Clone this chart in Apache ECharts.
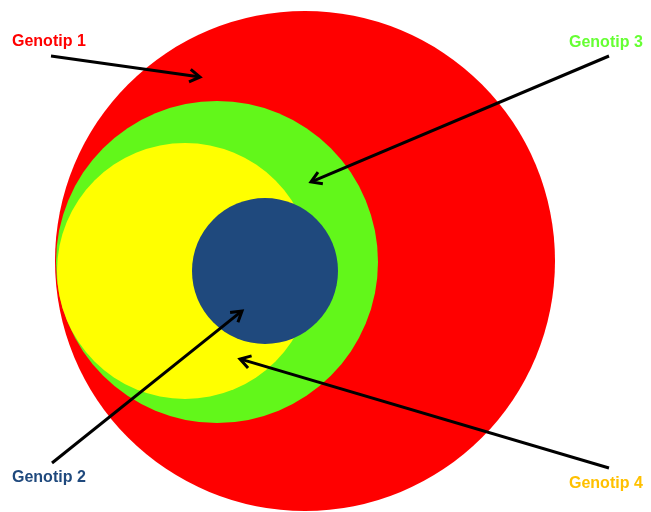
<!DOCTYPE html>
<html>
<head>
<meta charset="utf-8">
<script src="https://cdn.jsdelivr.net/npm/echarts@6/dist/echarts.min.js"></script>
<style>html,body{margin:0;padding:0;background:#fff}#c{width:651px;height:512px}</style>
</head>
<body>
<div id="c"></div>
<script>
// Circles (drawn back to front)
const circleNames = ['Genotip 1', 'Genotip 3', 'Genotip 4', 'Genotip 2'];
const circleCx = [305, 217, 185, 265];
const circleCy = [261, 262, 271, 271];
const circleR = [250, 161, 128, 73];
const circleColors = ['#FF0000', '#62F71A', '#FFFF00', '#1F497D'];

// Labels
const labelText = ['Genotip 1', 'Genotip 3', 'Genotip 2', 'Genotip 4'];
const labelX = [12, 569, 12, 569];
const labelY = [42, 43, 478, 484];
const labelColors = ['#FF0000', '#66FF33', '#1F497D', '#FFC000'];

// Arrows
const arrowFromX = [51, 609, 52, 609];
const arrowFromY = [56, 56, 463, 468];
const arrowToX = [200, 311, 242, 240];
const arrowToY = [77, 182, 311, 359];

const chart = echarts.init(document.getElementById('c'));

const circleData = circleNames.map((n, i) => ({ name: n, value: [circleCx[i], circleCy[i], circleR[i]], itemStyle: { color: circleColors[i] } }));
const labelData = labelText.map((t, i) => ({ name: t, value: [labelX[i], labelY[i]], color: labelColors[i] }));
const arrowData = arrowFromX.map((x, i) => [x, arrowFromY[i], arrowToX[i], arrowToY[i]]);

chart.setOption({
  animation: false,
  grid: { left: 0, right: 0, top: 0, bottom: 0 },
  xAxis: { type: 'value', min: 0, max: 651, show: false },
  yAxis: { type: 'value', min: 0, max: 512, inverse: true, show: false },
  series: [
    {
      type: 'custom',
      data: circleData,
      renderItem: function (params, api) {
        const c = api.coord([api.value(0), api.value(1)]);
        const r = api.size([api.value(2), api.value(2)])[0];
        return { type: 'circle', shape: { cx: c[0], cy: c[1], r: r }, style: { fill: api.visual('color') } };
      }
    },
    {
      type: 'custom',
      data: arrowData,
      z: 5,
      renderItem: function (params, api) {
        const a = api.coord([api.value(0), api.value(1)]);
        const b = api.coord([api.value(2), api.value(3)]);
        const ang = Math.atan2(b[1] - a[1], b[0] - a[0]);
        const L = 12, w = 0.55;
        const p1 = [b[0] - L * Math.cos(ang - w), b[1] - L * Math.sin(ang - w)];
        const p2 = [b[0] - L * Math.cos(ang + w), b[1] - L * Math.sin(ang + w)];
        return {
          type: 'group',
          children: [
            { type: 'line', shape: { x1: a[0], y1: a[1], x2: b[0] - 1.5 * Math.cos(ang), y2: b[1] - 1.5 * Math.sin(ang) }, style: { stroke: '#000', lineWidth: 3 } },
            { type: 'polyline', shape: { points: [p1, b, p2] }, style: { stroke: '#000', lineWidth: 3, fill: null, lineJoin: 'miter' } }
          ]
        };
      }
    },
    {
      type: 'custom',
      data: labelData,
      z: 6,
      renderItem: function (params, api) {
        const p = api.coord([api.value(0), api.value(1)]);
        const d = labelData[params.dataIndex];
        return {
          type: 'text',
          x: p[0], y: p[1],
          style: { text: d.name, fill: d.color, font: 'bold 16px "Liberation Sans", Arial, sans-serif', align: 'left', verticalAlign: 'middle' }
        };
      }
    }
  ]
});
</script>
</body>
</html>
